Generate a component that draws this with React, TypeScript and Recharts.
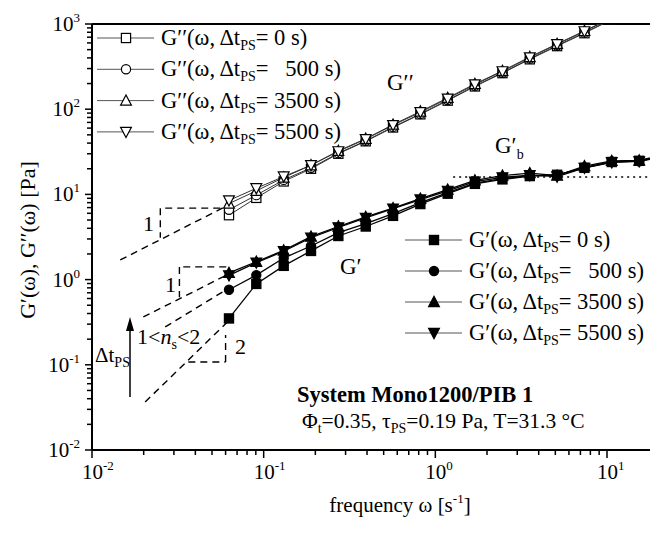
import React from "react";
import { Customized, Line, LineChart, ReferenceLine, XAxis, YAxis } from "recharts";

const FONT = "'Liberation Serif', 'Times New Roman', serif";

// angular frequency omega [1/s]
const frequencies = [
  0.0628, 0.0906, 0.1308, 0.1887, 0.2723, 0.393, 0.567, 0.818, 1.18, 1.7,
  2.46, 3.55, 5.12, 7.39, 10.66, 15.4, 22.2,
];

// loss modulus G'' [Pa]
const gpp0 = [5.7, 9.1, 14.2, 20, 30, 42, 61, 87, 126, 185, 265, 385, 550, 780, 1130];
const gpp500 = [6.6, 9.8, 14.8, 20.5, 30.5, 42.5, 62, 88, 128, 188, 268, 392, 558, 792, 1140];
const gpp3500 = [7.8, 11, 15.8, 22, 32.5, 45, 66, 94, 136, 198, 282, 410, 585, 830, 1190];
const gpp5500 = [8.5, 11.8, 16.2, 22, 32, 44.5, 65, 92, 133, 195, 278, 405, 578, 820, 1175];

// storage modulus G' [Pa]
const gp0 = [0.35, 0.89, 1.45, 2.17, 3.25, 4.2, 5.6, 7.7, 10.2, 13.3, 15, 16.4, 17, 20.5, 24, 24.8, 29];
const gp500 = [0.76, 1.13, 1.79, 2.48, 3.55, 4.55, 5.95, 8, 10.5, 13.6, 15.3, 16.6, 16.8, 20.8, 24.3, 24.5, 28];
const gp3500 = [1.2, 1.62, 2.2, 3.2, 4.2, 5.45, 6.9, 8.9, 11.4, 14.6, 16.6, 17.8, 16.6, 21.5, 24.8, 25, 30];
const gp5500 = [1.12, 1.58, 2.15, 3.1, 4.1, 5.3, 6.8, 8.7, 11, 14.1, 15.8, 16.8, 16.2, 20.5, 23.8, 24.4, 29];

const restTimes = ["\u00a00 s)", "\u00a0\u00a0\u00a0500 s)", "\u00a03500 s)", "\u00a05500 s)"];

const xMajorTicks = [0.01, 0.1, 1, 10];
const xMinorTicks = [
  0.02, 0.03, 0.04, 0.05, 0.06, 0.07, 0.08, 0.09,
  0.2, 0.3, 0.4, 0.5, 0.6, 0.7, 0.8, 0.9,
  2, 3, 4, 5, 6, 7, 8, 9,
];
const yMajorTicks = [0.01, 0.1, 1, 10, 100, 1000];
const yMinorTicks = [
  0.02, 0.03, 0.04, 0.05, 0.06, 0.07, 0.08, 0.09,
  0.2, 0.3, 0.4, 0.5, 0.6, 0.7, 0.8, 0.9,
  2, 3, 4, 5, 6, 7, 8, 9,
  20, 30, 40, 50, 60, 70, 80, 90,
  200, 300, 400, 500, 600, 700, 800, 900,
];

// dashed guide lines (slope triangles), in data units [omega, modulus]
const guideSegments = [
  [[0.0146, 1.7], [0.0624, 7.5]],
  [[0.0267, 6.9], [0.0624, 6.9]],
  [[0.025, 6.9], [0.025, 3.1]],
  [[0.0199, 0.364], [0.0624, 1.16]],
  [[0.034, 1.41], [0.0624, 1.41]],
  [[0.0323, 1.41], [0.0323, 0.62]],
  [[0.0267, 0.278], [0.0615, 0.776]],
  [[0.0204, 0.0366], [0.0615, 0.318]],
  [[0.0364, 0.108], [0.06, 0.108]],
  [[0.06, 0.108], [0.06, 0.224]],
];
const plateauLevel = 16;
const plateauFrom = 1.27;

const data = frequencies.map((w, i) => ({
  w,
  gpp0: gpp0[i],
  gpp500: gpp500[i],
  gpp3500: gpp3500[i],
  gpp5500: gpp5500[i],
  gp0: gp0[i],
  gp500: gp500[i],
  gp3500: gp3500[i],
  gp5500: gp5500[i],
}));

const lossSeries = [
  { key: "gpp0", shape: "square" },
  { key: "gpp500", shape: "circle" },
  { key: "gpp3500", shape: "up" },
  { key: "gpp5500", shape: "down" },
];
const storageSeries = [
  { key: "gp0", shape: "square" },
  { key: "gp500", shape: "circle" },
  { key: "gp3500", shape: "up" },
  { key: "gp5500", shape: "down" },
];

const isMajor = (v: number) => Math.abs(Math.log10(v) - Math.round(Math.log10(v))) < 1e-6;

const Marker = ({ cx, cy, shape, filled }: any) => {
  const s = 4.6;
  const fill = filled ? "#000" : "#fff";
  const common = { fill, stroke: "#000", strokeWidth: 1.2 };
  if (shape === "square") return <rect x={cx - s} y={cy - s} width={2 * s} height={2 * s} {...common} />;
  if (shape === "circle") return <circle cx={cx} cy={cy} r={s} {...common} />;
  if (shape === "up")
    return <polygon points={`${cx},${cy - s - 1} ${cx + s + 0.8},${cy + s} ${cx - s - 0.8},${cy + s}`} {...common} />;
  return <polygon points={`${cx},${cy + s + 1} ${cx + s + 0.8},${cy - s} ${cx - s - 0.8},${cy - s}`} {...common} />;
};

const makeDot = (shape: string, filled: boolean, name: string) => (p: any) => {
  if (p.cx == null || p.cy == null || p.value == null) return <g key={`${name}-${p.index}`} />;
  return (
    <g key={`${name}-${p.index}`}>
      <Marker cx={p.cx} cy={p.cy} shape={shape} filled={filled} />
    </g>
  );
};

const XTick = (props: any) => {
  const { x, y, payload } = props;
  const v = payload.value;
  const major = isMajor(v);
  return (
    <g>
      <line x1={x} x2={x} y1={y} y2={y + (major ? 8 : 5)} stroke="#000" strokeWidth={1.5} />
      {major && (
        <text x={x - 10} y={y + 29} fontFamily={FONT} fontSize={21} fill="#000">
          10<tspan dy={-9} fontSize={13}>{Math.round(Math.log10(v))}</tspan>
        </text>
      )}
    </g>
  );
};

const YTick = (props: any) => {
  const { x, y, payload } = props;
  const v = payload.value;
  const major = isMajor(v);
  return (
    <g>
      <line x1={x} x2={x - (major ? 7 : 5)} y1={y} y2={y} stroke="#000" strokeWidth={1.5} />
      {major && (
        <text x={x - 12} y={y + 7} textAnchor="end" fontFamily={FONT} fontSize={21} fill="#000">
          10<tspan dy={-9} fontSize={13}>{Math.round(Math.log10(v))}</tspan>
        </text>
      )}
    </g>
  );
};

const LegendRow = ({ y, x0, shape, filled, prime, rest }: any) => (
  <g>
    <line x1={x0} x2={x0 + 57} y1={y} y2={y} stroke="#555" strokeWidth={1} />
    <Marker cx={x0 + 29} cy={y} shape={shape} filled={filled} />
    <text x={x0 + 64} y={y + 7} fontFamily={FONT} fontSize={22.5} fill="#000">
      {prime}(ω, Δt<tspan dy={5} fontSize={14}>PS</tspan>
      <tspan dy={-5}>={rest}</tspan>
    </text>
  </g>
);

const Overlay = () => (
  <g fontFamily={FONT} fill="#000">
    {lossSeries.map((s, i) => (
      <LegendRow key={s.key} y={38 + i * 31.3} x0={97} shape={s.shape} filled={false} prime="G′′" rest={restTimes[i]} />
    ))}
    {storageSeries.map((s, i) => (
      <LegendRow key={s.key} y={240 + i * 31} x0={405} shape={s.shape} filled={true} prime="G′" rest={restTimes[i]} />
    ))}
    <text x={387} y={90} fontSize={23}>G′′</text>
    <text x={340} y={274} fontSize={23}>G′</text>
    <text x={495} y={153} fontSize={23}>
      G′<tspan dy={6} fontSize={14}>b</tspan>
    </text>
    <text x={143} y={231} fontSize={22}>1</text>
    <text x={165} y={292} fontSize={22}>1</text>
    <text x={235} y={354} fontSize={22}>2</text>
    <text x={137} y={344} fontSize={22}>
      1&lt;<tspan fontStyle="italic">n</tspan>
      <tspan dy={5} fontSize={14}>s</tspan>
      <tspan dy={-5}>&lt;2</tspan>
    </text>
    <text x={95} y={362} fontSize={21}>
      Δt<tspan dy={5} fontSize={14}>PS</tspan>
    </text>
    <line x1={130} x2={130} y1={397} y2={326} stroke="#000" strokeWidth={1.5} />
    <polygon points="130,317 126,331 134,331" fill="#000" />
    <text x={297} y={402} fontSize={22.5} fontWeight="bold">System Mono1200/PIB 1</text>
    <text x={302} y={428} fontSize={21.5}>
      Φ<tspan dy={5} fontSize={14}>t</tspan>
      <tspan dy={-5}>=0.35, τ</tspan>
      <tspan dy={5} fontSize={14}>PS</tspan>
      <tspan dy={-5}>=0.19 Pa, T=31.3 °C</tspan>
    </text>
    <text x={400} y={512} fontSize={21} textAnchor="middle">
      frequency ω [s<tspan dy={-9} fontSize={13}>-1</tspan>
      <tspan dy={9}>]</tspan>
    </text>
    <text x={27} y={240} fontSize={22} textAnchor="middle" dominantBaseline="central" transform="rotate(-90, 27, 240)">
      G′(ω), G′′(ω) [Pa]
    </text>
  </g>
);

export default function App() {
  return (
    <div style={{ position: "absolute", left: 0, top: 0, width: 650, height: 535, background: "#fff" }}>
      <LineChart width={650} height={535} data={data} margin={{ top: 24, right: 0, bottom: 0, left: 0 }}>
        <XAxis
          dataKey="w"
          type="number"
          scale="log"
          domain={[0.01, 17.8]}
          allowDataOverflow
          ticks={[...xMajorTicks, ...xMinorTicks]}
          interval={0}
          tickSize={0}
          tickMargin={0}
          tickLine={false}
          tick={<XTick />}
          axisLine={{ stroke: "#000", strokeWidth: 2 }}
          height={85}
        />
        <YAxis
          type="number"
          scale="log"
          domain={[0.01, 1000]}
          allowDataOverflow
          ticks={[...yMajorTicks, ...yMinorTicks]}
          interval={0}
          tickSize={0}
          tickMargin={0}
          tickLine={false}
          tick={<YTick />}
          axisLine={{ stroke: "#000", strokeWidth: 2 }}
          width={92}
        />
        <ReferenceLine y={1000} stroke="#000" strokeWidth={2} />
        {guideSegments.map((seg, i) => (
          <ReferenceLine
            key={`guide-${i}`}
            segment={[
              { x: seg[0][0], y: seg[0][1] },
              { x: seg[1][0], y: seg[1][1] },
            ]}
            stroke="#000"
            strokeWidth={1.4}
            strokeDasharray="7 5"
            ifOverflow="visible"
          />
        ))}
        <ReferenceLine
          segment={[
            { x: plateauFrom, y: plateauLevel },
            { x: 17.8, y: plateauLevel },
          ]}
          stroke="#000"
          strokeWidth={1.3}
          strokeDasharray="2 4"
        />
        {lossSeries.map((s) => (
          <Line
            key={s.key}
            dataKey={s.key}
            type="linear"
            stroke="#333"
            strokeWidth={1}
            dot={makeDot(s.shape, false, s.key)}
            activeDot={false}
            isAnimationActive={false}
          />
        ))}
        {storageSeries.map((s) => (
          <Line
            key={s.key}
            dataKey={s.key}
            type="linear"
            stroke="#000"
            strokeWidth={1.3}
            dot={makeDot(s.shape, true, s.key)}
            activeDot={false}
            isAnimationActive={false}
          />
        ))}
        <Customized component={<Overlay />} />
      </LineChart>
    </div>
  );
}
